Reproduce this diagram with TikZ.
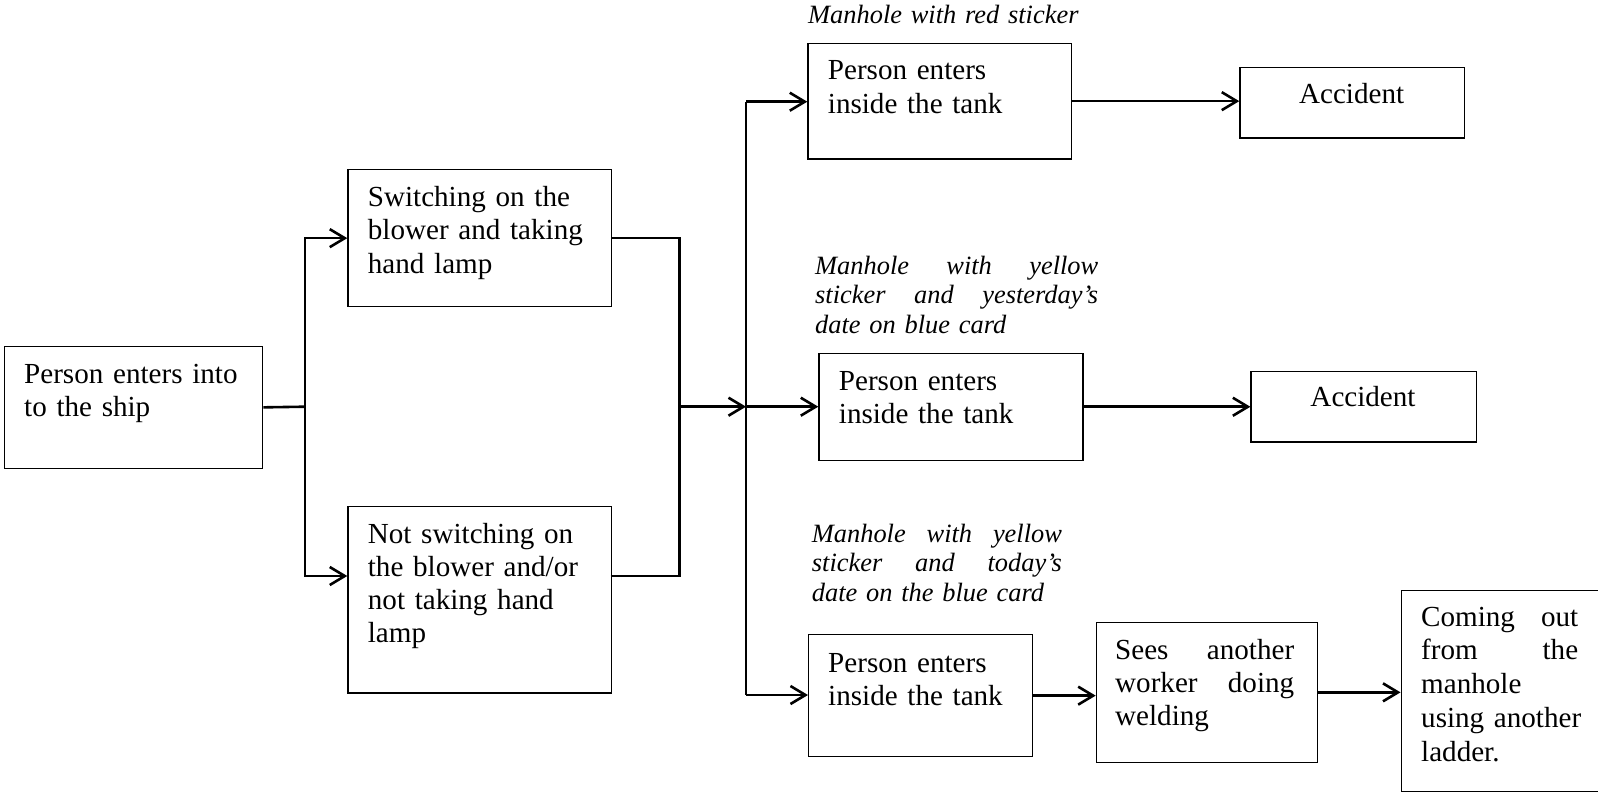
\documentclass[tikz,border=0pt]{standalone}
\usepackage{fontspec}
\setmainfont{Liberation Serif}
\usetikzlibrary{arrows.meta}
\newcommand\jline[2]{\leavevmode\hbox to #1{#2}}
\begin{document}
\begin{tikzpicture}[x=1pt,y=-1pt,
  box/.style={draw=black, line width=1.3pt, rectangle, inner sep=0pt, anchor=north west},
  txt/.style={anchor=base west, inner sep=0pt, align=left, font=\fontsize{29.1}{33.2}\selectfont},
  ctxt/.style={anchor=base, inner sep=0pt, font=\fontsize{29.1}{33.2}\selectfont},
  lbl/.style={anchor=base west, inner sep=0pt, align=left, font=\fontsize{26.4}{29.6}\selectfont\itshape},
  conn/.style={line width=2.6pt},
  arr/.style={conn, -{Straight Barb[length=15pt,width=18pt]}}]
\useasboundingbox (0,0) rectangle (1598,792);

% boxes
\node[box, minimum width=258pt, minimum height=122pt] (A) at (4,345.7) {};
\node[box, minimum width=263.4pt, minimum height=137pt] (B) at (347.3,169) {};
\node[box, minimum width=263.4pt, minimum height=186.6pt] (C) at (347.3,505.7) {};
\node[box, minimum width=263.4pt, minimum height=115.6pt] (D) at (807.3,42.7) {};
\node[box, minimum width=224.7pt, minimum height=70.6pt] (Acc1) at (1239.3,66.7) {};
\node[box, minimum width=264pt, minimum height=107pt] (E) at (818.3,352.6) {};
\node[box, minimum width=225.3pt, minimum height=70.3pt] (Acc2) at (1250.4,371) {};
\node[box, minimum width=223.7pt, minimum height=122pt] (G) at (808,634) {};
\node[box, minimum width=221pt, minimum height=140pt] (H) at (1095.7,621.7) {};
\node[box, minimum width=202pt, minimum height=201pt] (I) at (1400.5,590) {};

% box texts
\node[txt, text width=235pt] (tA) at (24,383) {Person enters into\\to the ship};
\node[txt, text width=240pt] (tB) at (367.7,206.7) {Switching on the\\blower and taking\\hand lamp};
\node[txt, text width=240pt] (tC) at (367.7,543.3) {Not switching on\\the blower and/or\\not taking hand\\lamp};
\node[txt, text width=240pt] (tD) at (827.7,80) {Person enters\\inside the tank};
\node[ctxt] (tAcc1) at (1351.6,103) {Accident};
\node[txt, text width=240pt] (tE) at (838.7,390) {Person enters\\inside the tank};
\node[ctxt] (tAcc2) at (1363,406.6) {Accident};
\node[txt, text width=200pt] (tG) at (828,672) {Person enters\\inside the tank};
\node[txt, text width=179pt] (tH) at (1115,659.5) {\jline{179pt}{Sees\hfill another}\\\jline{179pt}{worker\hfill doing}\\welding};
\node[txt, text width=172pt, font=\fontsize{29.1}{33.8}\selectfont] (tI) at (1421,626) {\jline{157pt}{Coming\hfill out}\\\jline{157pt}{from\hfill the}\\manhole\\using another\\ladder.};

% italic labels
\node[lbl, text width=280pt] (L1) at (808,24) {Manhole with red sticker};
\node[lbl, text width=283pt] (L2) at (815,274) {\jline{283pt}{Manhole\hfill with\hfill yellow}\\\jline{283pt}{sticker\hfill and\hfill yesterday’s}\\date on blue card};
\node[lbl, text width=250pt] (L3) at (811.7,542) {\jline{250pt}{Manhole\hfill with\hfill yellow}\\\jline{250pt}{sticker\hfill and\hfill today’s}\\date on the blue card};

% junction coordinates
\coordinate (j1) at (305,406.7);
\coordinate (cin) at (347.3,576);
\coordinate (cout) at (610.7,576);
\coordinate (j2) at (679.6,406.7);
\coordinate (j3) at (746,406.7);
\coordinate (t1) at (746,101.7);
\coordinate (t3) at (746,695);

% connectors
\draw[conn] (A.east) -- (j1);
\draw[arr] (j1) |- (B.west);
\draw[arr] (j1) |- (cin);
\draw[conn] (B.east) -| (j2);
\draw[conn] (cout) -| (j2);
\draw[arr] (j2) -- (j3);
\draw[conn] (t1) -- (t3);
\draw[arr] (t1) -- (t1 -| D.west);
\draw[arr] (j3) -- (j3 -| E.west);
\draw[arr] (t3) -- (t3 -| G.west);
\draw[arr] (D.east) -- (D.east -| Acc1.west);
\draw[arr] (E.east) -- (E.east -| Acc2.west);
\draw[arr] (G.east) -- (G.east -| H.west);
\draw[arr] (H.east) -- (H.east -| I.west);
\end{tikzpicture}
\end{document}
